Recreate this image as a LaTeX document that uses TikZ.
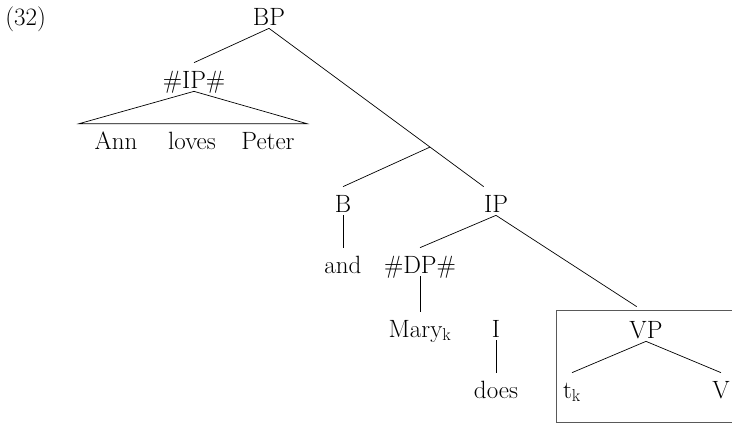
\documentclass[tikz,border=0pt]{standalone}
\usepackage{amsmath, amssymb, tikz}
\usetikzlibrary{calc}
\begin{document}
\begin{tikzpicture}[x=1pt, y=-1pt, line width=0.7pt,
        font=\fontsize{25}{30}\selectfont,
        lbl/.style={anchor=base, inner sep=0pt, text height=25pt, text depth=3pt},
        boxline/.style={draw=black!65, line width=0.9pt}]
        \useasboundingbox (0,0) rectangle (732,423);
        \node[anchor=base west, inner sep=0pt] (ex) at (5,25) {(32)};
        \node[lbl] (bp) at (269,25) {BP};
        \node[lbl] (ipx) at (194,88) {\#IP\#};
        \node[lbl] (ann) at (116,149) {Ann};
        \node[lbl] (loves) at (192,149) {loves};
        \node[lbl] (peter) at (268,149) {Peter};
        \node[lbl] (b) at (343,212) {B};
        \node[lbl] (ip) at (496,212) {IP};
        \node[lbl] (and) at (343,273) {and};
        \node[lbl] (dp) at (420,273) {\#DP\#};
        \node[lbl] (mary) at (420,337) {Mary$_{\mathrm{k}}$};
        \node[lbl] (i) at (496,337) {I};
        \node[lbl] (does) at (496,398) {does};
        \node[lbl] (vp) at (646,338) {VP};
        \node[lbl] (tk) at (572,398) {t$_{\mathrm{k}}$};
        \node[lbl] (v) at (721,398) {V};
        \coordinate (br) at ($(bp.south)!0.75!(ip.north west)$);
        \draw (bp.south) -- (ipx.north);
        \draw (ipx.south) -- ([xshift=-15pt]ann.north west) -- ([xshift=12pt]peter.north east) -- cycle;
        \draw (bp.south) -- (ip.north west);
        \draw (br) -- (b.north);
        \draw (b.south) -- (and.north);
        \draw (ip.south) -- (dp.north);
        \draw[shorten >=11pt] (ip.south) -- (vp.north);
        \draw (dp.south) -- (mary.north);
        \draw (i.south) -- (does.north);
        \draw (vp.south) -- (tk.north);
        \draw (vp.south) -- (v.north);
        \draw[boxline] (556,310) rectangle (745,422);
    \end{tikzpicture}
\end{document}
